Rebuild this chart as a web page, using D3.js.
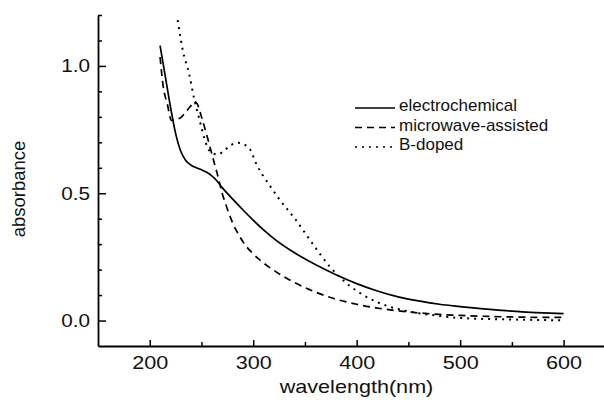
<!DOCTYPE html>
<html>
<head>
<meta charset="utf-8">
<script src="https://cdn.jsdelivr.net/npm/d3@7"></script>
<style>
  html, body { margin: 0; padding: 0; background: #fff; }
  svg { display: block; font-family: "Liberation Sans", Arial, sans-serif; }
</style>
</head>
<body>
<svg id="chart" width="604" height="406"></svg>
<script>
// UV-vis absorption spectra of three carbon dot preparations
const seriesNames = ["electrochemical", "microwave-assisted", "B-doped"];

const ecWavelength = [210, 215, 220, 225, 230, 235, 240, 245, 250, 255, 260, 265, 270, 280, 290, 300, 310, 320, 340, 360, 380, 400, 420, 440, 460, 480, 500, 520, 540, 560, 580, 600];
const ecAbsorbance = [1.08, 0.96, 0.84, 0.735, 0.665, 0.628, 0.61, 0.60, 0.592, 0.582, 0.568, 0.548, 0.522, 0.478, 0.435, 0.394, 0.356, 0.322, 0.266, 0.22, 0.18, 0.145, 0.116, 0.093, 0.077, 0.064, 0.055, 0.047, 0.040, 0.034, 0.030, 0.027];

const mwWavelength = [210, 213, 217, 221, 225, 230, 235, 240, 243, 246, 250, 255, 258, 262, 266, 270, 274, 280, 287, 293, 300, 310, 320, 340, 360, 380, 400, 420, 440, 460, 480, 500, 550, 600];
const mwAbsorbance = [1.035, 0.92, 0.85, 0.786, 0.79, 0.797, 0.82, 0.845, 0.86, 0.85, 0.80, 0.73, 0.685, 0.625, 0.565, 0.50, 0.45, 0.385, 0.33, 0.293, 0.262, 0.226, 0.197, 0.149, 0.112, 0.084, 0.064, 0.049, 0.038, 0.030, 0.024, 0.020, 0.014, 0.012];

const bdWavelength = [227, 232, 238, 243, 248, 254, 258, 262, 266, 272, 278, 285, 292, 297, 303, 309, 316, 325, 341, 357, 374, 390, 406, 420, 438, 460, 480, 500, 550, 600];
const bdAbsorbance = [1.18, 1.06, 0.97, 0.87, 0.79, 0.70, 0.665, 0.655, 0.652, 0.668, 0.688, 0.698, 0.69, 0.672, 0.615, 0.572, 0.53, 0.478, 0.396, 0.304, 0.212, 0.147, 0.101, 0.072, 0.047, 0.029, 0.018, 0.010, 0.004, 0.001];

const xTicks = [200, 300, 400, 500, 600];
const xMinorTicks = [250, 350, 450, 550];
const yTicks = [0.0, 0.5, 1.0];
const yMinorTicks = [0.1, 0.2, 0.3, 0.4, 0.6, 0.7, 0.8, 0.9, 1.1, 1.2];

const xTitle = "wavelength(nm)";
const yTitle = "absorbance";

const svg = d3.select("#chart");
const plotLeft = 98, plotRight = 605, plotTop = 15, plotBottom = 346;

const x = d3.scaleLinear().domain([150, 640]).range([plotLeft, plotRight]);
const y = d3.scaleLinear().domain([-0.1, 1.2]).range([plotBottom, plotTop]);

const styles = [
  { dash: null, width: 1.7 },
  { dash: "7,5", width: 1.7 },
  { dash: "2,5", width: 2 }
];

const series = [
  d3.zip(ecWavelength, ecAbsorbance),
  d3.zip(mwWavelength, mwAbsorbance),
  d3.zip(bdWavelength, bdAbsorbance)
];

const line = d3.line()
  .x(d => x(d[0]))
  .y(d => y(d[1]))
  .curve(d3.curveMonotoneX);

svg.append("g").selectAll("path")
  .data(series)
  .join("path")
  .attr("d", line)
  .attr("fill", "none")
  .attr("stroke", "#000")
  .attr("stroke-width", (d, i) => styles[i].width)
  .attr("stroke-dasharray", (d, i) => styles[i].dash);

// Axes: ticks point into the plot area
const xAxis = svg.append("g")
  .attr("transform", `translate(0,${plotBottom})`)
  .call(d3.axisBottom(x).tickValues(xTicks).tickSizeInner(-6).tickSizeOuter(0).tickPadding(10).tickFormat(d3.format("d")));
svg.append("g")
  .attr("transform", `translate(0,${plotBottom})`)
  .call(d3.axisBottom(x).tickValues(xMinorTicks).tickSizeInner(-4).tickSizeOuter(0).tickFormat(""))
  .call(g => g.select(".domain").remove());

const yAxis = svg.append("g")
  .attr("transform", `translate(${plotLeft},0)`)
  .call(d3.axisLeft(y).tickValues(yTicks).tickSizeInner(-8).tickSizeOuter(0).tickPadding(8).tickFormat(d3.format(".1f")));
svg.append("g")
  .attr("transform", `translate(${plotLeft},0)`)
  .call(d3.axisLeft(y).tickValues(yMinorTicks).tickSizeInner(-4).tickSizeOuter(0).tickFormat(""))
  .call(g => g.select(".domain").remove());

svg.selectAll(".domain").attr("stroke", "#000").attr("stroke-width", 1.8);
svg.selectAll(".tick line").attr("stroke", "#000").attr("stroke-width", 1.5);

// Tick labels are drawn slightly wide
xAxis.selectAll(".tick text")
  .attr("font-size", 18)
  .attr("font-family", "Liberation Sans, Arial, sans-serif")
  .attr("fill", "#111")
  .attr("transform", "scale(1.2,1)");
yAxis.selectAll(".tick text")
  .attr("font-size", 18)
  .attr("font-family", "Liberation Sans, Arial, sans-serif")
  .attr("fill", "#111")
  .attr("x", 0)
  .attr("transform", "translate(-8,0) scale(1.15,1)");

svg.append("text")
  .attr("transform", `translate(${(278 + 435) / 2},393) scale(1.2,1)`)
  .attr("text-anchor", "middle")
  .attr("font-size", 18)
  .attr("fill", "#111")
  .text(xTitle);

svg.append("text")
  .attr("transform", "translate(25,189) rotate(-90)")
  .attr("text-anchor", "middle")
  .attr("font-size", 18.5)
  .attr("fill", "#111")
  .text(yTitle);

// Legend
const legend = svg.append("g").attr("transform", "translate(355,108)");
const rows = legend.selectAll("g")
  .data(seriesNames)
  .join("g")
  .attr("transform", (d, i) => `translate(0,${i * 19.5})`);
rows.append("line")
  .attr("x1", 0).attr("x2", 40)
  .attr("stroke", "#000")
  .attr("stroke-width", 1.6)
  .attr("stroke-dasharray", (d, i) => styles[i].dash);
rows.append("text")
  .attr("x", 44)
  .attr("y", 3)
  .attr("font-size", 17)
  .attr("fill", "#111")
  .text(d => d);
</script>
</body>
</html>
